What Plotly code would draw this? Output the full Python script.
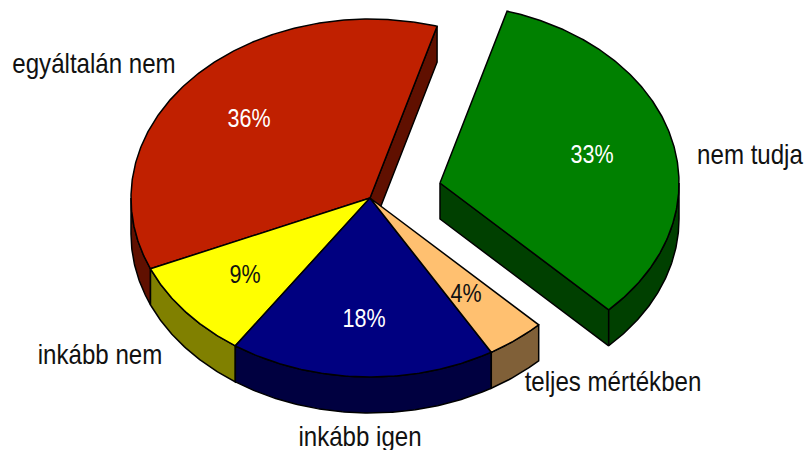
import math
import plotly.graph_objects as go

categories = ["egyáltalán nem", "inkább nem", "inkább igen", "teljes mértékben", "nem tudja"]
values = [36, 9, 18, 4, 33]
top_colors = ["#C02000", "#FFFF00", "#000080", "#FFC070", "#008000"]
wall_colors = ["#601000", "#808000", "#000040", "#806038", "#004000"]
pull = [(0, 0), (0, 0), (0, 0), (0, 0), (70, -15)]
value_pos = [(249, 121), (245, 277), (364, 321), (466, 296), (592, 157)]
value_colors = ["white", "#111111", "white", "#111111", "white"]
label_pos = [(94, 66), (100, 357), (360, 439), (613, 384), (750, 157)]

CX, CY, RX, RY, DEPTH = 370, 198, 239, 179, 36
START = 16.3
total = sum(values)
fig = go.Figure()


def pt(theta, dx, dy, dz=0):
    r = math.radians(theta)
    return CX + dx + RX * math.sin(r), CY + dy + RY * math.cos(r) * -1 + dz


def arc(a, b, dx, dy, dz=0):
    n = max(2, int(abs(b - a) * 2))
    return [pt(a + (b - a) * i / n, dx, dy, dz) for i in range(n + 1)]


def poly(points, color):
    xs = [p[0] for p in points] + [points[0][0]]
    ys = [p[1] for p in points] + [points[0][1]]
    fig.add_trace(go.Scatter(x=xs, y=ys, mode="lines", fill="toself", fillcolor=color,
                             line=dict(color="black", width=1.5), hoverinfo="skip", showlegend=False))


# angles run anticlockwise from START
spans = []
a = START
for v in values:
    b = a - v / total * 360
    spans.append((a, b))
    a = b

# side walls first
for i, (a, b) in enumerate(spans):
    dx, dy = pull[i]
    apex = (CX + dx, CY + dy)
    # radial faces that look towards the viewer
    if i in (0, 4):
        o = pt(a, dx, dy)
        poly([apex, o, (o[0], o[1] + DEPTH), (apex[0], apex[1] + DEPTH)], wall_colors[i])
    # outer rim: front half only
    lo, hi = min(a, b), max(a, b)
    for k in range(-4, 4):
        s, e = max(lo, 90 + 360 * k), min(hi, 270 + 360 * k)
        if s < e:
            poly(arc(s, e, dx, dy) + arc(e, s, dx, dy, DEPTH), wall_colors[i])

# top faces
for i, (a, b) in enumerate(spans):
    dx, dy = pull[i]
    poly([(CX + dx, CY + dy)] + arc(a, b, dx, dy), top_colors[i])

FONT = "Liberation Sans, Arial, sans-serif"
fig.add_trace(go.Scatter(x=[p[0] for p in value_pos], y=[p[1] for p in value_pos], mode="text",
                         text=[f"{v}%" for v in values],
                         textfont=dict(family=FONT, size=25, color=value_colors),
                         hoverinfo="skip", showlegend=False, cliponaxis=False))
fig.add_trace(go.Scatter(x=[p[0] for p in label_pos], y=[p[1] for p in label_pos], mode="text",
                         text=categories,
                         textfont=dict(family=FONT, size=28, color="#111111"),
                         hoverinfo="skip", showlegend=False, cliponaxis=False))

fig.update_layout(width=806, height=450, margin=dict(l=0, r=0, t=0, b=0),
                  paper_bgcolor="white", plot_bgcolor="white", showlegend=False)
fig.update_xaxes(range=[0, 806], visible=False, fixedrange=True)
fig.update_yaxes(range=[450, 0], visible=False, fixedrange=True)

# the reference's text is a condensed face: squeeze the real text elements horizontally
POST = """
document.body.style.margin='0';document.body.style.overflow='hidden';
function squeeze(){
  document.querySelectorAll('.textpoint text').forEach(function(t){
    if(t.dataset.sq)return;
    var w=t.getComputedTextLength();
    if(w>0){t.setAttribute('lengthAdjust','spacingAndGlyphs');
            t.setAttribute('textLength',String(w*0.86));t.dataset.sq='1';}
  });
}
squeeze();setTimeout(squeeze,50);
"""
fig.write_html("out.html", config={"displayModeBar": False}, post_script=POST)
